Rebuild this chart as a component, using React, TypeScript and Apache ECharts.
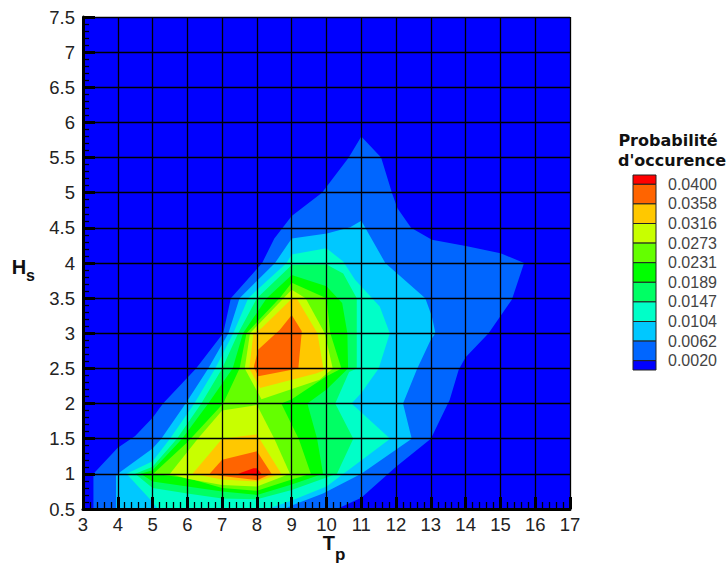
import React, { useEffect, useRef } from "react";
import * as echarts from "echarts";

type Pt = [number, number];

const legendLabels = ["0.0400", "0.0358", "0.0316", "0.0273", "0.0231", "0.0189", "0.0147", "0.0104", "0.0062", "0.0020"];
const bandColors = ["#ff0000", "#ff6400", "#ffc800", "#c8ff00", "#64ff00", "#00ff00", "#00ff64", "#00ffc8", "#00c8ff", "#0066ff", "#0000ff"];

const level0: Pt[] = [[3, 0.5], [17, 0.5], [17, 7.5], [3, 7.5]];
const level1: Pt[] = [[3.3, 0.5], [3.3, 1], [4, 1.37], [4.5, 1.54], [5, 1.8], [5.3, 2], [6.25, 2.5], [7.03, 3], [7.25, 3.5], [8.15, 4], [8.5, 4.35], [9, 4.67], [9.87, 5], [10.64, 5.5], [11, 5.8], [11.57, 5.5], [11.88, 5], [12.04, 4.78], [12.43, 4.5], [13.03, 4.33], [14.04, 4.24], [15, 4.14], [15.68, 4], [15.33, 3.48], [14.66, 3], [14, 2.66], [13.8, 2.48], [13.54, 2.05], [13, 1.5], [12, 1.1], [11, 0.66], [10.3, 0.5]];
const level2: Pt[] = [[3.95, 0.5], [3.95, 0.97], [4, 1], [5, 1.36], [5.25, 1.5], [5.95, 2], [6.6, 2.5], [7.18, 3], [7.5, 3.5], [8.52, 4], [9, 4.35], [10.01, 4.42], [10.68, 4.51], [11, 4.6], [11.69, 4], [12.84, 3.5], [13.03, 3.24], [13.13, 3], [12.98, 2.89], [12.6, 2.49], [12.2, 2], [12.45, 1.5], [11, 1], [9.9, 0.72], [9, 0.55], [8.8, 0.5]];
const level3: Pt[] = [[4.25, 1], [5, 0.6], [5.15, 0.5], [8.3, 0.5], [9, 0.62], [10, 0.82], [11.83, 1.5], [10.72, 2], [11, 2.15], [11.5, 2.5], [11.82, 3], [11.53, 3.38], [10.82, 3.76], [10.48, 4.02], [10, 4.21], [9, 4.12], [8.85, 4], [7.75, 3.5], [7.32, 3], [6.8, 2.5], [6.2, 2], [5.5, 1.5], [5, 1.18]];
const level4: Pt[] = [[4.5, 1], [5, 0.8], [6, 0.72], [7, 0.65], [8, 0.64], [9, 0.77], [10.3, 1], [10.77, 1.5], [10.25, 2], [10.65, 2.45], [10.87, 2.5], [10.87, 3.5], [10.48, 3.85], [10, 3.98], [9, 3.97], [8, 3.5], [7.46, 3], [7, 2.5], [6.4, 2], [5.7, 1.5], [5, 1.1]];
const level5: Pt[] = [[4.66, 1], [5, 0.89], [6, 0.82], [7, 0.75], [8, 0.7], [9, 0.85], [9.9, 1], [9.73, 1.5], [9.45, 2], [10, 2.2], [10.62, 2.5], [10.6, 3], [10.45, 3.43], [10, 3.67], [9, 3.83], [8.28, 3.5], [7.6, 3], [7.3, 2.5], [6.6, 2], [5.85, 1.5], [5, 1.05]];
const level6: Pt[] = [[5.02, 1], [6, 0.94], [7, 0.8], [8, 0.76], [9, 0.92], [9.55, 1], [9.2, 1.5], [8.7, 2], [9, 2.06], [10, 2.39], [10.43, 2.5], [10.11, 3], [10, 3.5], [9, 3.72], [8.65, 3.5], [7.7, 3], [7.5, 2.5], [7.03, 2], [6, 1.45]];
const level7Low: Pt[] = [[5.5, 1], [6, 0.93], [7, 0.84], [8, 0.82], [8.95, 1], [8.5, 1.5], [8, 1.98], [7, 1.9], [6.3, 1.5]];
const level7High: Pt[] = [[7.65, 2.5], [8.13, 2.06], [9.8, 2.34], [10.18, 2.5], [9.95, 3], [9.4, 3.5], [9, 3.62], [7.8, 3]];
const level8Low: Pt[] = [[6.15, 1], [7, 0.92], [8, 0.89], [8.7, 1], [8, 1.56], [7, 1.5]];
const level8High: Pt[] = [[7.78, 2.5], [7.9, 3], [8.13, 3.07], [9, 3.49], [9.15, 3.49], [9.74, 3], [9.92, 2.47], [9.72, 2.43], [8.09, 2.22]];
const level9Low: Pt[] = [[6.64, 1], [7, 0.97], [8, 0.91], [8.42, 1], [8, 1.32], [7, 1.2]];
const level9High: Pt[] = [[7.91, 2.52], [8.04, 2.77], [8.66, 3.05], [9, 3.26], [9.29, 3.03], [9.19, 2.5], [8.04, 2.39]];
const level10: Pt[] = [[7.46, 1], [7.9, 1.08], [8, 1.08], [8.13, 1], [8, 0.97], [7.7, 0.99]];

const contours: { pts: Pt[]; color: string }[] = [
  { pts: level0, color: bandColors[10] },
  { pts: level1, color: bandColors[9] },
  { pts: level2, color: bandColors[8] },
  { pts: level3, color: bandColors[7] },
  { pts: level4, color: bandColors[6] },
  { pts: level5, color: bandColors[5] },
  { pts: level6, color: bandColors[4] },
  { pts: level7Low, color: bandColors[3] },
  { pts: level7High, color: bandColors[3] },
  { pts: level8Low, color: bandColors[2] },
  { pts: level8High, color: bandColors[2] },
  { pts: level9Low, color: bandColors[1] },
  { pts: level9High, color: bandColors[1] },
  { pts: level10, color: bandColors[0] },
];

const bandHeights = [9.3, 19.6, 19.6, 19.6, 19.6, 19.6, 19.6, 19.6, 19.6, 19.6, 9.3];

function legendGraphics() {
  const els: any[] = [];
  let y = 175;
  const labelFont = '16px "Liberation Sans", Arial, sans-serif';
  bandColors.forEach((c, i) => {
    els.push({
      type: "rect",
      shape: { x: 633, y, width: 23, height: bandHeights[i] },
      style: { fill: c, stroke: "#222222", lineWidth: 1 },
    });
    y += bandHeights[i];
    if (i < legendLabels.length) {
      els.push({
        type: "text",
        x: 668,
        y,
        style: { text: legendLabels[i], font: labelFont, fill: "#444444", textAlign: "left", textVerticalAlign: "middle" },
      });
    }
  });
  const titleFont = 'bold 16px "DejaVu Sans", sans-serif';
  els.push({ type: "text", x: 668, y: 140, style: { text: "Probabilité", font: titleFont, fill: "#111111", textAlign: "center", textVerticalAlign: "middle" } });
  els.push({ type: "text", x: 672, y: 160, style: { text: "d'occurence", font: titleFont, fill: "#111111", textAlign: "center", textVerticalAlign: "middle" } });
  return els;
}

const axisFont = { fontFamily: '"Liberation Sans", Arial, sans-serif', fontSize: 18.5, color: "#222222" };
const lineStyle = { color: "#000000", width: 1.3 };

export default function App() {
  const ref = useRef<HTMLDivElement>(null);
  useEffect(() => {
    const chart = echarts.init(ref.current!, null, { renderer: "svg" });
    chart.setOption({
      animation: false,
      backgroundColor: "#ffffff",
      grid: { left: 83, top: 17, width: 487, height: 492, outerBoundsMode: "none" },
      xAxis: {
        type: "value", min: 3, max: 17, interval: 1, z: 6,
        axisLine: { show: true, lineStyle: { color: "#000", width: 3 } },
        axisTick: { show: true, inside: true, length: 12, lineStyle: { color: "#000", width: 3 } },
        minorTick: { show: true, splitNumber: 5, length: 7, lineStyle: { color: "#000", width: 1.3 } },
        splitLine: { show: true, lineStyle },
        axisLabel: { ...axisFont, margin: 6 },
        name: "{a|T}{b|p}",
        nameLocation: "middle",
        nameMoveOverlap: false,
        nameGap: 13,
        nameTextStyle: {
          rich: {
            a: { fontFamily: '"Liberation Sans"', fontWeight: "bold", fontSize: 20, color: "#111", padding: [0, 0, 0, 15] },
            b: { fontFamily: '"Liberation Sans"', fontWeight: "bold", fontSize: 17, color: "#111", padding: [24, 0, 0, 0] },
          },
        },
      },
      yAxis: {
        type: "value", min: 0.5, max: 7.5, interval: 0.5, z: 6,
        axisLine: { show: true, lineStyle: { color: "#000", width: 3 } },
        axisTick: { show: true, inside: true, length: 12, lineStyle: { color: "#000", width: 3 } },
        minorTick: { show: true, splitNumber: 5, length: 6, lineStyle: { color: "#000", width: 1.3 } },
        splitLine: { show: true, lineStyle },
        axisLabel: { ...axisFont, margin: 8 },
        name: "{a|H}{b|s}",
        nameLocation: "middle",
        nameRotate: 0,
        nameGap: 48,
        nameTextStyle: {
          rich: {
            a: { fontFamily: '"Liberation Sans"', fontWeight: "bold", fontSize: 20, color: "#111", padding: [8, 0, 0, 0] },
            b: { fontFamily: '"Liberation Sans"', fontWeight: "bold", fontSize: 16, color: "#111", padding: [24, 0, 0, 0] },
          },
        },
      },
      series: contours.map((c, i) => ({
        type: "custom",
        coordinateSystem: "cartesian2d",
        z: 1,
        silent: true,
        clip: true,
        data: [c.pts[0]],
        renderItem: (_p: any, api: any) => ({
          type: "polygon",
          z2: i,
          shape: { points: c.pts.map((p) => api.coord(p)) },
          style: { fill: c.color, stroke: "none" },
        }),
      })),
      graphic: { elements: legendGraphics() },
    });
    return () => chart.dispose();
  }, []);
  return <div ref={ref} style={{ position: "absolute", left: 0, top: 0, width: 728, height: 565 }} />;
}
